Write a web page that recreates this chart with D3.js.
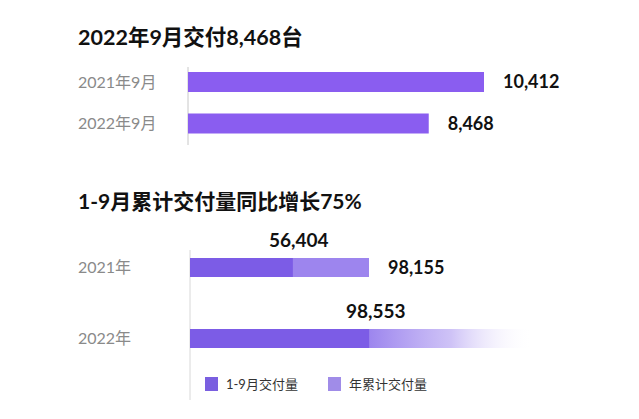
<!DOCTYPE html>
<html><head><meta charset="utf-8">
<script src="https://cdn.jsdelivr.net/npm/d3@7"></script>
<style>
html,body{margin:0;padding:0;background:#fff;}
svg{display:block;}
text{font-family:"Lato","Noto Sans CJK SC",sans-serif;}
</style></head>
<body><svg id="c" width="639" height="419"></svg>
<script>
// ---- data ----
const titleTop = "2022年9月交付8,468台";
const monthCats = ["2021年9月", "2022年9月"];
const monthValues = [10412, 8468];

const titleBottom = "1-9月累计交付量同比增长75%";
const yearCats = ["2021年", "2022年"];
const janSepValues = [56404, 98553];      // 1-9月交付量
const fullYearValues = [98155, null];     // 年累计交付量 (2022 not yet known)
const fadeExtentValues = [null, 188000];  // faded placeholder for 2022 full year
const legendLabels = ["1-9月交付量", "年累计交付量"];

const fmt = d3.format(",");
const svg = d3.select("#c");

// ---- titles ----
svg.append("text").attr("x", 78).attr("y", 45).text(titleTop)
  .attr("font-size", 21.5).attr("font-weight", 700).attr("fill", "#111");
svg.append("text").attr("x", 78).attr("y", 209).text(titleBottom)
  .attr("font-size", 21).attr("font-weight", 700).attr("fill", "#111");

// ---- top chart ----
const x1 = d3.scaleLinear().domain([0, 10412]).range([188, 484]);
const y1 = d3.scalePoint().domain(monthCats).range([82, 123.5]);
const h1 = 20;

svg.append("line").attr("x1", 188).attr("x2", 188).attr("y1", 67).attr("y2", 145)
  .attr("stroke", "#c8c8c8").attr("stroke-width", 1);

const g1 = svg.append("g");
g1.selectAll("rect").data(monthCats).join("rect")
  .attr("x", x1(0)).attr("y", d => y1(d) - h1 / 2)
  .attr("width", (d, i) => x1(monthValues[i]) - x1(0))
  .attr("height", h1)
  .attr("fill", "#8a5df0");
g1.selectAll("text.cat").data(monthCats).join("text").attr("class", "cat")
  .attr("x", 78).attr("y", d => y1(d))
  .attr("dy", "0.36em").attr("font-size", 16).attr("fill", "#8a8a8a")
  .text(d => d);
g1.selectAll("text.val").data(monthCats).join("text").attr("class", "val")
  .attr("x", (d, i) => x1(monthValues[i]) + 19)
  .attr("y", d => y1(d))
  .attr("dy", "0.36em").attr("font-size", 18).attr("font-weight", 700).attr("fill", "#111")
  .text((d, i) => fmt(monthValues[i]));

// ---- bottom chart ----
const x2 = d3.scaleLinear().domain([0, 98155]).range([190, 369]);
const y2 = d3.scalePoint().domain(yearCats).range([267.5, 338.5]);
const h2 = 19;

svg.append("line").attr("x1", 190).attr("x2", 190).attr("y1", 250).attr("y2", 400)
  .attr("stroke", "#d8d8d8").attr("stroke-width", 1);

const defs = svg.append("defs");
const grad = defs.append("linearGradient").attr("id", "fade").attr("x1", "0").attr("x2", "1");
grad.append("stop").attr("offset", "0%").attr("stop-color", "#9d86ee").attr("stop-opacity", 1);
grad.append("stop").attr("offset", "50%").attr("stop-color", "#c6b8f5").attr("stop-opacity", 0.85);
grad.append("stop").attr("offset", "100%").attr("stop-color", "#ffffff").attr("stop-opacity", 0);

const g2 = svg.append("g");
// faded extent
g2.selectAll("rect.fade").data(yearCats.filter((d, i) => fadeExtentValues[i] != null)).join("rect")
  .attr("class", "fade")
  .attr("x", d => x2(janSepValues[yearCats.indexOf(d)]))
  .attr("y", d => y2(d) - h2 / 2)
  .attr("width", d => { const i = yearCats.indexOf(d); return x2(fadeExtentValues[i]) - x2(janSepValues[i]); })
  .attr("height", h2)
  .attr("fill", "url(#fade)");
// full-year (lighter)
g2.selectAll("rect.full").data(yearCats.filter((d, i) => fullYearValues[i] != null)).join("rect")
  .attr("class", "full")
  .attr("x", x2(0)).attr("y", d => y2(d) - h2 / 2)
  .attr("width", d => x2(fullYearValues[yearCats.indexOf(d)]) - x2(0))
  .attr("height", h2)
  .attr("fill", "#9d85ee");
// Jan-Sep (darker)
g2.selectAll("rect.js").data(yearCats).join("rect")
  .attr("class", "js")
  .attr("x", x2(0)).attr("y", d => y2(d) - h2 / 2)
  .attr("width", (d, i) => x2(janSepValues[i]) - x2(0))
  .attr("height", h2)
  .attr("fill", "#7c5ce6");
// category labels
g2.selectAll("text.cat").data(yearCats).join("text").attr("class", "cat")
  .attr("x", 78).attr("y", d => y2(d))
  .attr("dy", "0.36em").attr("font-size", 16).attr("fill", "#8a8a8a")
  .text(d => d);
// Jan-Sep values above bar end
g2.selectAll("text.jsv").data(yearCats).join("text").attr("class", "jsv")
  .attr("x", (d, i) => x2(janSepValues[i]) + 6)
  .attr("y", d => y2(d) - 21)
  .attr("text-anchor", "middle").attr("font-size", 19).attr("font-weight", 700).attr("fill", "#111")
  .text((d, i) => fmt(janSepValues[i]));
// full-year values right of bar
g2.selectAll("text.fv").data(yearCats.filter((d, i) => fullYearValues[i] != null)).join("text").attr("class", "fv")
  .attr("x", d => x2(fullYearValues[yearCats.indexOf(d)]) + 19)
  .attr("y", d => y2(d))
  .attr("dy", "0.36em").attr("font-size", 18).attr("font-weight", 700).attr("fill", "#111")
  .text(d => fmt(fullYearValues[yearCats.indexOf(d)]));

// ---- legend ----
const legendColors = ["#7a5fe0", "#a08ce8"];
const legendX = [205, 328];
const lg = svg.append("g");
lg.selectAll("rect").data(legendLabels).join("rect")
  .attr("x", (d, i) => legendX[i]).attr("y", 377).attr("width", 13).attr("height", 14)
  .attr("fill", (d, i) => legendColors[i]);
lg.selectAll("text").data(legendLabels).join("text")
  .attr("x", (d, i) => legendX[i] + 21).attr("y", 384).attr("dy", "0.36em")
  .attr("font-size", 13).attr("fill", "#333")
  .text(d => d);
</script></body></html>
